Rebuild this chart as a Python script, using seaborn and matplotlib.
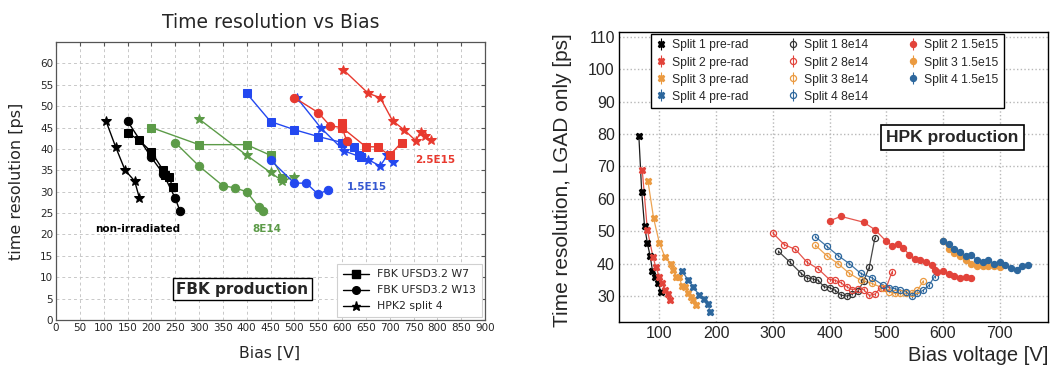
import numpy as np
import pandas as pd
import seaborn as sns
import matplotlib.pyplot as plt
from matplotlib.lines import Line2D
from matplotlib.ticker import MultipleLocator

# ---------------- left panel data (FBK production) ----------------
# non-irradiated
w7_0_x = [150, 175, 200, 225, 228, 237, 245]
w7_0_y = [43.8, 42.0, 39.3, 35.0, 34.0, 33.5, 31.0]
w13_0_x = [150, 200, 225, 250, 260]
w13_0_y = [46.5, 38.0, 34.2, 28.5, 25.5]
hpk_0_x = [105, 125, 145, 165, 175]
hpk_0_y = [46.5, 40.5, 35.0, 32.5, 28.5]
# 8E14
w7_8_x = [200, 300, 400, 450, 475]
w7_8_y = [45.0, 41.0, 41.0, 38.5, 33.3]
w13_8_x = [250, 300, 350, 375, 400, 425, 435]
w13_8_y = [41.5, 36.0, 31.4, 30.9, 30.0, 26.4, 25.5]
hpk_8_x = [300, 400, 450, 475, 500]
hpk_8_y = [47.0, 38.5, 34.5, 32.5, 33.5]
# 1.5E15
w7_15_x = [400, 450, 500, 550, 600, 625, 635, 640]
w7_15_y = [53.0, 46.4, 44.5, 42.9, 41.5, 40.4, 38.5, 38.0]
w13_15_x = [450, 500, 525, 550, 570]
w13_15_y = [37.4, 32.0, 32.0, 29.4, 30.4]
hpk_15_x = [505, 555, 605, 655, 680, 695, 707]
hpk_15_y = [52.0, 45.0, 39.5, 37.5, 36.0, 38.5, 37.0]
# 2.5E15
w7_25_x = [600, 600, 650, 675, 700, 725]
w7_25_y = [46.0, 45.0, 40.5, 40.5, 38.5, 41.5]
w13_25_x = [500, 550, 575, 600, 610]
w13_25_y = [52.0, 48.5, 45.4, 45.0, 41.9]
hpk_25_x = [603, 655, 680, 706, 730, 755, 765, 775, 786]
hpk_25_y = [58.5, 53.0, 52.0, 46.6, 44.5, 41.9, 44.0, 43.1, 42.0]

# ---------------- right panel data (HPK production) ----------------
s1_pre_x = [64, 69, 74, 79, 84, 88, 93, 98, 103]
s1_pre_y = [79.4, 62.2, 51.6, 46.3, 42.3, 37.8, 36.0, 33.9, 31.3]
s2_pre_x = [70, 79, 89, 94, 100, 105, 110, 115, 119]
s2_pre_y = [68.8, 50.4, 42.0, 38.9, 36.0, 34.1, 31.9, 30.6, 28.8]
s3_pre_x = [80, 90, 100, 110, 120, 125, 130, 135, 140, 145, 150, 155, 160, 165]
s3_pre_y = [65.5, 54.0, 46.5, 42.0, 40.0, 38.2, 35.8, 35.8, 33.2, 32.9, 31.0, 29.8, 28.8, 27.2]
s4_pre_x = [140, 150, 160, 170, 178, 185, 190]
s4_pre_y = [37.8, 35.1, 32.9, 30.3, 29.0, 27.7, 25.2]

s1_8_x = [310, 330, 350, 360, 370, 380, 390, 400, 410, 420, 430, 440, 450, 460, 470, 480]
s1_8_y = [43.8, 40.5, 37.0, 35.6, 35.3, 34.9, 32.9, 32.6, 31.8, 30.3, 30.0, 30.7, 31.5, 34.6, 38.9, 48.0]
s2_8_x = [300, 320, 340, 360, 380, 400, 410, 420, 430, 440, 450, 460, 470, 480, 490, 500, 510]
s2_8_y = [49.5, 45.9, 44.4, 40.5, 38.4, 35.1, 34.9, 34.1, 32.9, 32.0, 32.3, 32.0, 30.2, 30.6, 32.6, 32.6, 37.4]
s3_8_x = [375, 395, 415, 435, 455, 475, 495, 505, 515, 525, 535, 545, 555, 565]
s3_8_y = [45.7, 42.5, 40.0, 37.0, 34.9, 33.9, 32.4, 31.3, 30.8, 30.8, 30.8, 31.0, 31.8, 34.6]
s4_8_x = [375, 395, 415, 435, 455, 475, 495, 505, 515, 525, 535, 545, 555, 565, 575, 585]
s4_8_y = [48.3, 45.4, 42.5, 40.0, 37.0, 35.6, 33.3, 32.6, 32.3, 31.8, 31.3, 30.0, 30.8, 31.8, 33.3, 36.0]

s2_15_x = [400, 420, 460, 480, 500, 510, 520, 530, 540, 550, 560, 570, 580, 585, 590, 600, 610, 620, 630, 640, 650]
s2_15_y = [53.2, 54.6, 52.8, 50.5, 46.9, 45.6, 46.0, 44.9, 42.8, 41.5, 41.1, 40.5, 39.5, 38.2, 37.4, 37.6, 36.7, 36.2, 35.6, 35.9, 35.6]
s3_15_x = [600, 610, 620, 630, 640, 650, 660, 670, 680, 690, 700]
s3_15_y = [46.9, 44.5, 43.4, 42.4, 41.0, 40.0, 39.4, 39.2, 39.2, 39.4, 38.9]
s4_15_x = [600, 610, 620, 630, 640, 650, 660, 670, 680, 690, 700, 710, 720, 730, 740, 750]
s4_15_y = [47.0, 46.0, 44.5, 43.6, 42.3, 42.8, 41.0, 40.5, 41.1, 40.0, 40.5, 39.5, 38.6, 38.2, 39.3, 39.6]

err_pre = 0.7
err_8 = 0.5
err_15 = 0.6

# colours
k = 'black'
g_l = '#5c9b48'
b_l = '#2348f0'
r_l = '#e8392e'
red = '#e2433a'
ora = '#eb9a40'
blu = '#2d679d'

sns.set_style('white')

fig = plt.figure(figsize=(10.51, 3.67), dpi=100)

# ================= left panel =================
ax = fig.add_axes([56 / 1051, 1 - 320 / 367, 429 / 1051, 278 / 367])

left_series = [
    (w7_0_x, w7_0_y, k, 's'), (w13_0_x, w13_0_y, k, 'o'), (hpk_0_x, hpk_0_y, k, '*'),
    (w7_8_x, w7_8_y, g_l, 's'), (w13_8_x, w13_8_y, g_l, 'o'), (hpk_8_x, hpk_8_y, g_l, '*'),
    (w7_15_x, w7_15_y, b_l, 's'), (w13_15_x, w13_15_y, b_l, 'o'), (hpk_15_x, hpk_15_y, b_l, '*'),
    (w7_25_x, w7_25_y, r_l, 's'), (w13_25_x, w13_25_y, r_l, 'o'), (hpk_25_x, hpk_25_y, r_l, '*'),
]
for xs, ys, c, m in left_series:
    ms = {'s': 5.8, 'o': 6.0, '*': 7.0}[m]
    sns.lineplot(x=xs, y=ys, sort=False, estimator=None, color=c, marker=m,
                 markersize=ms, markeredgecolor=c, linewidth=1.0, ax=ax)

ax.set_xlim(0, 900)
ax.set_ylim(0, 65)
ax.set_xticks(range(0, 901, 50))
ax.set_yticks(range(0, 61, 5))
ax.grid(True, linestyle=(0, (3, 3)), color='#c8c8c8', linewidth=0.7)
ax.tick_params(direction='in', top=True, right=True, length=3, labelsize=7.5,
               pad=2, color='#555555')
for s in ax.spines.values():
    s.set_color('#555555')
    s.set_linewidth(0.9)

ax.text(172, 21.3, 'non-irradiated', color=k, fontsize=7.5, fontweight='bold', ha='center', va='center')
ax.text(442, 21.3, '8E14', color=g_l, fontsize=7.5, fontweight='bold', ha='center', va='center')
ax.text(652, 31, '1.5E15', color='#3558d0', fontsize=7.5, fontweight='bold', ha='center', va='center')
ax.text(795, 37.4, '2.5E15', color=r_l, fontsize=7.5, fontweight='bold', ha='center', va='center')
ax.text(391, 7.2, 'FBK production', fontsize=11, fontweight='bold', ha='center', va='center',
        bbox=dict(boxstyle='square,pad=0.22', fc='white', ec='black', lw=1))

handles = [Line2D([0], [0], color=k, marker='s', markersize=5.5, lw=1),
           Line2D([0], [0], color=k, marker='o', markersize=5.5, lw=1),
           Line2D([0], [0], color=k, marker='*', markersize=6.5, lw=1)]
leg = ax.legend(handles, ['FBK UFSD3.2 W7', 'FBK UFSD3.2 W13', 'HPK2 split 4'],
                loc='lower right', fontsize=7.8, frameon=True, fancybox=False,
                edgecolor='#d0d0d0', framealpha=1, borderaxespad=0.3,
                handlelength=2.4, labelspacing=0.55, borderpad=0.5)
leg.get_frame().set_linewidth(0.8)

fig.text(270.5 / 1051, 1 - 22 / 367, 'Time resolution vs Bias', fontsize=13.5, ha='center', va='center')
fig.text(17 / 1051, 1 - 181.5 / 367, 'time resolution [ps]', fontsize=11.5, rotation=90, ha='center', va='center')
fig.text(270 / 1051, 1 - 353 / 367, 'Bias [V]', fontsize=11.3, ha='center', va='center')

# ================= right panel =================
hv = 'Liberation Sans'
ax2 = fig.add_axes([619 / 1051, 1 - 322 / 367, 429 / 1051, 290 / 367])

right_series = [
    (s1_pre_x, s1_pre_y, k, 'X', True, err_pre),
    (s2_pre_x, s2_pre_y, red, 'X', True, err_pre),
    (s3_pre_x, s3_pre_y, ora, 'X', True, err_pre),
    (s4_pre_x, s4_pre_y, blu, 'X', True, err_pre),
    (s1_8_x, s1_8_y, '#333333', 'o', False, err_8),
    (s2_8_x, s2_8_y, red, 'o', False, err_8),
    (s3_8_x, s3_8_y, ora, 'o', False, err_8),
    (s4_8_x, s4_8_y, blu, 'o', False, err_8),
    (s2_15_x, s2_15_y, red, 'o', True, err_15),
    (s3_15_x, s3_15_y, ora, 'o', True, err_15),
    (s4_15_x, s4_15_y, blu, 'o', True, err_15),
]
labels = ['Split 1 pre-rad', 'Split 2 pre-rad', 'Split 3 pre-rad', 'Split 4 pre-rad',
          'Split 1 8e14', 'Split 2 8e14', 'Split 3 8e14', 'Split 4 8e14',
          'Split 2 1.5e15', 'Split 3 1.5e15', 'Split 4 1.5e15']

leg_handles = []
for (xs, ys, c, m, filled, e), lab in zip(right_series, labels):
    fc = c if filled else 'none'
    ms = 4.4 if m == 'o' else 4.5
    sns.lineplot(x=xs, y=ys, sort=False, estimator=None, color=c, linewidth=0.9,
                 alpha=0.9, ax=ax2)
    ax2.errorbar(xs, ys, yerr=e, fmt=m, color=c, mfc=fc, mec=c, ms=ms, mew=0.9,
                 elinewidth=0.8, capsize=0, zorder=3)
    h = ax2.errorbar([np.nan], [np.nan], yerr=[1], fmt=m, color=c, mfc=fc, mec=c,
                     ms=ms, mew=0.9, elinewidth=0.8, capsize=0)
    leg_handles.append(h)

ax2.set_xlim(29, 785)
ax2.set_ylim(22, 111.5)
ax2.set_xticks(range(100, 701, 100))
ax2.set_yticks(range(30, 111, 10))
ax2.xaxis.set_minor_locator(MultipleLocator(20))
ax2.yaxis.set_minor_locator(MultipleLocator(2))
ax2.grid(True, which='major', linestyle=':', color='#b8b8b8', linewidth=1.0)
ax2.tick_params(which='major', direction='in', length=6, width=0.9, labelsize=11.5, pad=3)
ax2.tick_params(which='minor', direction='in', length=3, width=0.8)
for lab in ax2.get_xticklabels() + ax2.get_yticklabels():
    lab.set_fontfamily(hv)
for s in ax2.spines.values():
    s.set_color('black')
    s.set_linewidth(1.0)

leg2 = ax2.legend(leg_handles, labels, ncol=3, loc='upper left',
                  bbox_to_anchor=((651 - 619) / 429, 1 - (34 - 32) / 290),
                  prop={'family': hv, 'size': 8.7}, frameon=True, fancybox=False,
                  edgecolor='black', framealpha=1, handlelength=0.8,
                  handletextpad=0.5, columnspacing=3.3, labelspacing=0.42,
                  borderpad=0.45, borderaxespad=0)
leg2.get_frame().set_linewidth(1.0)

ax2.text(617, 79, 'HPK production', fontfamily=hv, fontsize=12.5, fontweight='bold',
         ha='center', va='center',
         bbox=dict(boxstyle='square,pad=0.3', fc='white', ec='black', lw=1.2))

fig.text(563 / 1051, 1 - 180 / 367, 'Time resolution, LGAD only [ps]', fontfamily=hv,
         fontsize=15, rotation=90, ha='center', va='center')
fig.text(1048 / 1051, 1 - 361 / 367, 'Bias voltage [V]', fontfamily=hv, fontsize=14.5,
         ha='right', va='baseline')

fig.savefig('out.png', dpi=100)
